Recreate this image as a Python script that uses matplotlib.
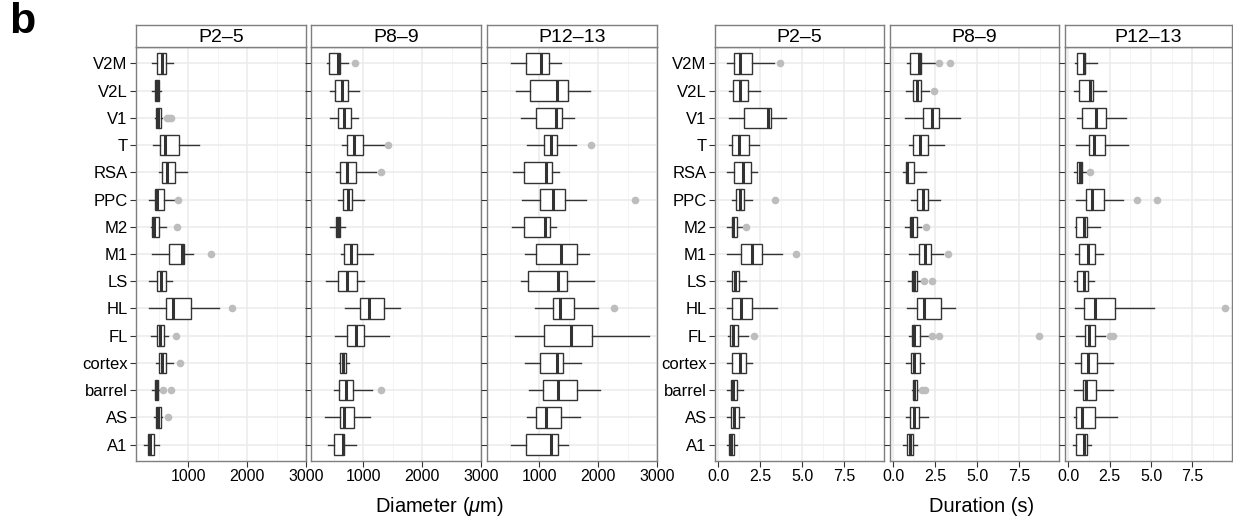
import matplotlib.pyplot as plt
from matplotlib.ticker import FixedLocator

plt.rcParams['font.family'] = ['Liberation Sans', 'DejaVu Sans']
plt.rcParams['mathtext.fontset'] = 'custom'
plt.rcParams['mathtext.rm'] = 'Liberation Sans'
plt.rcParams['mathtext.it'] = 'Liberation Sans:italic'

# regions, top to bottom
regions = ['V2M', 'V2L', 'V1', 'T', 'RSA', 'PPC', 'M2', 'M1',
           'LS', 'HL', 'FL', 'cortex', 'barrel', 'AS', 'A1']
ages = ['P2\u20135', 'P8\u20139', 'P12\u201313']

# each row: whisker low, Q1, median, Q3, whisker high
diam_p2_5 = [
    [379, 464, 549, 622, 746], [390, 430, 464, 509, 537], [435, 447, 481, 532, 560],
    [407, 520, 605, 842, 1187], [498, 548, 645, 775, 972], [339, 441, 475, 594, 758],
    [362, 390, 419, 503, 616], [379, 673, 888, 927, 1074], [328, 464, 532, 616, 729],
    [339, 628, 735, 1051, 1526], [368, 469, 520, 582, 650], [447, 509, 554, 628, 746],
    [379, 436, 453, 486, 532], [424, 458, 492, 543, 560], [255, 323, 351, 424, 498],
]
diam_p2_5_out = {'V1': [640, 670, 700], 'PPC': [820], 'M2': [808], 'M1': [1385],
                 'HL': [1741], 'FL': [792], 'cortex': [854], 'barrel': [577, 701],
                 'AS': [662]}

diam_p8_9 = [
    [390, 424, 565, 599, 746], [441, 520, 633, 735, 927], [441, 577, 679, 791, 916],
    [633, 724, 848, 989, 1345], [532, 610, 718, 876, 1210], [565, 662, 735, 803, 1006],
    [441, 532, 565, 605, 696], [622, 679, 791, 888, 1159], [373, 577, 718, 888, 1006],
    [696, 944, 1097, 1351, 1628], [515, 729, 876, 1018, 1441], [594, 610, 650, 701, 763],
    [509, 594, 701, 831, 1153], [356, 599, 679, 837, 1114], [396, 509, 650, 679, 882],
]
diam_p8_9_out = {'V2M': [859], 'T': [1419], 'RSA': [1300], 'barrel': [1300]}

diam_p12_13 = [
    [525, 768, 1028, 1158, 1362], [605, 836, 1300, 1486, 1859], [684, 949, 1288, 1390, 1588],
    [797, 1079, 1198, 1305, 1622], [554, 735, 1107, 1209, 1333], [712, 1017, 1232, 1446, 1797],
    [531, 740, 1090, 1181, 1283], [751, 944, 1367, 1650, 1842], [689, 802, 1316, 1480, 1927],
    [932, 1232, 1356, 1599, 1994], [593, 1085, 1537, 1898, 2870], [763, 1017, 1300, 1396, 1706],
    [819, 1062, 1311, 1639, 2034], [791, 949, 1119, 1367, 1695], [525, 774, 1198, 1311, 1497],
]
diam_p12_13_out = {'T': [1887], 'PPC': [2627], 'HL': [2277]}

dur_p2_5 = [
    [0.50, 0.94, 1.29, 2.03, 3.30], [0.66, 0.90, 1.29, 1.75, 2.51], [0.66, 1.55, 2.95, 3.14, 4.02],
    [0.66, 0.84, 1.25, 1.83, 2.45], [0.50, 0.96, 1.45, 1.93, 2.33], [0.80, 1.04, 1.29, 1.55, 1.99],
    [0.50, 0.82, 0.90, 1.10, 1.39], [0.50, 1.33, 1.99, 2.63, 3.80], [0.50, 0.80, 1.00, 1.24, 1.63],
    [0.50, 0.84, 1.33, 2.03, 3.52], [0.56, 0.70, 0.90, 1.16, 1.75], [0.54, 0.84, 1.29, 1.63, 2.01],
    [0.54, 0.78, 0.86, 1.14, 1.49], [0.50, 0.76, 0.92, 1.22, 1.51], [0.50, 0.66, 0.74, 0.94, 1.14],
]
dur_p2_5_out = {'V2M': [3.68], 'PPC': [3.36], 'M2': [1.63], 'M1': [4.62], 'FL': [2.13]}

dur_p8_9 = [
    [0.80, 1.00, 1.55, 1.65, 2.55], [0.76, 1.16, 1.39, 1.67, 2.15], [0.72, 1.79, 2.29, 2.73, 3.96],
    [0.96, 1.19, 1.59, 2.09, 3.01], [0.60, 0.74, 0.80, 1.26, 1.95], [1.04, 1.43, 1.75, 2.09, 2.79],
    [0.72, 1.00, 1.10, 1.39, 1.63], [0.96, 1.55, 1.89, 2.23, 2.99], [0.86, 1.14, 1.26, 1.43, 1.73],
    [0.84, 1.39, 1.85, 2.85, 3.68], [0.96, 1.14, 1.26, 1.59, 2.05], [0.74, 1.06, 1.26, 1.59, 1.85],
    [1.10, 1.16, 1.26, 1.39, 1.63], [0.74, 1.02, 1.26, 1.55, 2.05], [0.56, 0.80, 1.00, 1.16, 1.39],
]
dur_p8_9_out = {'V2M': [2.71, 3.36], 'V2L': [2.45], 'M2': [1.95], 'M1': [3.28],
                'LS': [1.85, 2.30], 'FL': [2.29, 2.73, 8.69], 'barrel': [1.73, 1.89]}

dur_p12_13 = [
    [0.40, 0.50, 0.96, 1.04, 1.75], [0.36, 0.64, 1.30, 1.50, 2.29], [0.50, 0.84, 1.69, 2.25, 3.48],
    [0.44, 1.24, 1.53, 2.23, 3.60], [0.36, 0.50, 0.70, 0.84, 1.10], [0.44, 1.10, 1.45, 2.13, 3.30],
    [0.40, 0.46, 0.96, 1.12, 1.93], [0.40, 0.66, 1.19, 1.63, 2.09], [0.36, 0.50, 0.96, 1.22, 1.55],
    [0.40, 0.96, 1.63, 2.85, 5.15], [0.44, 1.00, 1.26, 1.63, 2.19], [0.40, 0.74, 1.19, 1.71, 2.69],
    [0.36, 0.90, 1.10, 1.65, 2.71], [0.36, 0.46, 0.80, 1.59, 2.95], [0.30, 0.46, 0.96, 1.12, 1.39],
]
dur_p12_13_out = {'RSA': [1.33], 'PPC': [4.12, 5.35], 'HL': [9.49], 'FL': [2.49, 2.69]}

diam_ticks = [1000, 2000, 3000]
diam_labels = ['1000', '2000', '3000']
dur_ticks = [0.0, 2.5, 5.0, 7.5]
dur_labels = ['0.0', '2.5', '5.0', '7.5']

W, H = 1233, 521
fig = plt.figure(figsize=(W / 100, H / 100), dpi=100)

panel_top, panel_bot = 47, 461
strip_top = 25
edge = '#333333'
border = '#7F7F7F'


def make_stats(rows, outliers):
    stats = []
    for name, r in zip(regions, rows):
        stats.append(dict(label=name, whislo=r[0], q1=r[1], med=r[2], q3=r[3],
                          whishi=r[4], fliers=outliers.get(name, [])))
    return stats


def draw_panel(x0, x1, rows, outliers, title, xlim, ticks, labels, minor, show_y):
    ax = fig.add_axes([x0 / W, 1 - panel_bot / H, (x1 - x0) / W, (panel_bot - panel_top) / H])
    positions = list(range(len(regions), 0, -1))
    ax.bxp(make_stats(rows, outliers), positions=positions, widths=0.75,
           orientation='horizontal', showcaps=False, patch_artist=True,
           boxprops=dict(facecolor='white', edgecolor=edge, linewidth=1.0),
           medianprops=dict(color=edge, linewidth=2.2),
           whiskerprops=dict(color=edge, linewidth=1.0),
           flierprops=dict(marker='o', markerfacecolor='#BDBDBD', markeredgecolor='none',
                           markersize=5.5))
    ax.set_xlim(*xlim)
    ax.set_ylim(0.4, len(regions) + 0.6)
    ax.set_xticks(ticks)
    ax.set_xticklabels(labels)
    ax.xaxis.set_minor_locator(FixedLocator(minor))
    ax.set_yticks(positions)
    if show_y:
        ax.set_yticklabels(regions, fontsize=12)
    else:
        ax.set_yticklabels([])
        ax.tick_params(axis='y', length=0)
    ax.set_axisbelow(True)
    ax.grid(which='major', color='#EBEBEB', linewidth=1.1)
    ax.grid(which='minor', axis='x', color='#F3F3F3', linewidth=0.6)
    ax.tick_params(axis='x', labelsize=11.5)
    ax.tick_params(which='major', length=4, width=0.8, color=edge,
                   labelcolor='black', pad=2)
    ax.tick_params(which='minor', length=0)
    for s in ax.spines.values():
        s.set_color(border)
        s.set_linewidth(1.0)

    sx = fig.add_axes([x0 / W, 1 - panel_top / H, (x1 - x0) / W, (panel_top - strip_top) / H])
    sx.set_xticks([])
    sx.set_yticks([])
    for s in sx.spines.values():
        s.set_color(border)
        s.set_linewidth(1.0)
    sx.text(0.5, 0.45, title, transform=sx.transAxes, ha='center', va='center', fontsize=14)
    return ax


left_x = [(136, 306), (311, 481), (487, 657)]
right_x = [(715, 884), (890, 1059), (1065, 1232)]

diam_sets = [(diam_p2_5, diam_p2_5_out), (diam_p8_9, diam_p8_9_out), (diam_p12_13, diam_p12_13_out)]
dur_sets = [(dur_p2_5, dur_p2_5_out), (dur_p8_9, dur_p8_9_out), (dur_p12_13, dur_p12_13_out)]

for i, ((x0, x1), (rows, outs)) in enumerate(zip(left_x, diam_sets)):
    draw_panel(x0, x1, rows, outs, ages[i], (113.6, 2995), diam_ticks, diam_labels,
               [500, 1500, 2500], i == 0)

for i, ((x0, x1), (rows, outs)) in enumerate(zip(right_x, dur_sets)):
    draw_panel(x0, x1, rows, outs, ages[i], (-0.197, 9.886), dur_ticks, dur_labels,
               [1.25, 3.75, 6.25, 8.75], i == 0)

fig.text(440 / W, 1 - 506 / H, r'Diameter ($\mu$m)', ha='center', va='center', fontsize=14.5)
fig.text(982 / W, 1 - 506 / H, 'Duration (s)', ha='center', va='center', fontsize=14.5)
fig.text(22 / W, 1 - 22 / H, 'b', ha='center', va='center', fontsize=31, fontweight='bold')

fig.savefig('out.png', dpi=100)
